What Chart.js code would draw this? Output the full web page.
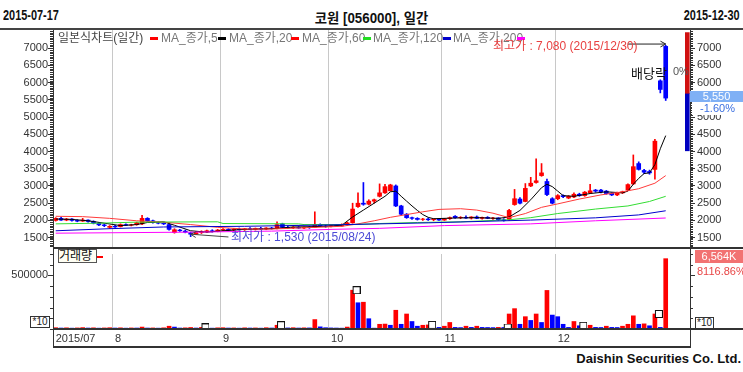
<!DOCTYPE html>
<html>
<head>
<meta charset="utf-8">
<script src="https://cdn.jsdelivr.net/npm/chart.js@4.4.0/dist/chart.umd.min.js"></script>
<style>
  body { margin: 0; width: 743px; height: 372px; position: relative; background: #fff; overflow: hidden;
         font-family: "Liberation Sans", Arial, "Noto Sans CJK KR", sans-serif; }
  canvas { position: absolute; left: 0; }
  .t { position: absolute; white-space: nowrap; }
  .hdr { top: 7px; font-size: 14px; font-weight: bold; color: #111;
         font-family: "Liberation Sans", "Noto Sans CJK KR", sans-serif; }
  .ln { position: absolute; background: #333; }
  .lg { position: absolute; top: 30px; font-size: 12px; line-height: 16px; color: #777; white-space: nowrap;
        font-family: "Liberation Sans", "Noto Sans CJK KR", sans-serif; }
  .dash { position: absolute; top: 37px; height: 3px; width: 8px; }
  .box10 { position: absolute; border: 1px solid #333; background: #fff; font-size: 10px; line-height: 10px;
           text-align: center; color: #222; }
</style>
</head>
<body>
<div class="t hdr" style="left:3px;transform:scaleX(0.78);transform-origin:left center">2015-07-17</div>
<div class="t hdr" style="left:0;width:743px;text-align:center;transform:scaleX(0.95)">코원 [056000], 일간</div>
<div class="t hdr" style="right:3px;transform:scaleX(0.78);transform-origin:right center">2015-12-30</div>
<div class="ln" style="left:0;top:28px;width:743px;height:2px;background:#444"></div>

<canvas id="price" width="743" height="218" style="top:30px"></canvas>
<canvas id="volume" width="743" height="99" style="top:249px"></canvas>

<!-- panel frame -->
<div class="ln" style="left:53px;top:30px;width:1px;height:318px"></div>
<div class="ln" style="left:690px;top:30px;width:1px;height:318px"></div>
<div class="ln" style="left:53px;top:247px;width:690px;height:2px"></div>
<div class="ln" style="left:53px;top:328px;width:690px;height:2px"></div>
<div class="ln" style="left:53px;top:346px;width:638px;height:2px"></div>

<!-- price legend -->
<div class="lg" style="left:58px;color:#444">일본식차트(일간)</div>
<div class="dash" style="left:150px;background:#ff0000"></div>
<div class="lg" style="left:161px">MA_종가,5</div>
<div class="dash" style="left:218px;background:#000"></div>
<div class="lg" style="left:229px">MA_종가,20</div>
<div class="dash" style="left:291px;background:#ff0000"></div>
<div class="lg" style="left:302px">MA_종가,60</div>
<div class="dash" style="left:363px;background:#22dd22"></div>
<div class="lg" style="left:373px">MA_종가,120</div>
<div class="dash" style="left:443px;background:#0000cc"></div>
<div class="lg" style="left:453px">MA_종가,200</div>
<div class="dash" style="left:517px;background:#ff00ff"></div>

<!-- notes on the price panel -->
<div class="t" style="left:493px;top:36px;font-size:12px;color:#e84040">최고가 : 7,080 (2015/12/30)</div>
<div class="t" style="left:231px;top:227px;font-size:12px;color:#4b4bd6">최저가 : 1,530 (2015/08/24)</div>
<div class="t" style="left:631px;top:63px;font-size:13px;color:#111">배당락</div>
<div class="t" style="left:673px;top:65px;font-size:11px;color:#555">0%</div>
<div class="t" style="left:690px;top:91px;width:53px;height:11px;background:#7fb0f5;color:#fff;font-size:11px;line-height:11px;text-align:center">5,550</div>
<div class="t" style="left:692px;top:102px;width:51px;height:13px;background:#fff;color:#3a6fe0;font-size:11px;line-height:13px;text-align:center">-1.60%</div>

<!-- volume panel notes -->
<div class="t" style="left:58px;top:249px;width:37px;height:12px;border:1px solid #555;background:#fffff4;font-size:12px;line-height:12px;color:#111">거래량</div>
<div class="ln" style="left:97px;top:256px;width:6px;height:2px;background:#ff0000"></div>
<div class="box10" style="left:30px;top:316px;width:18px;height:10px">*10</div>
<div class="box10" style="left:695px;top:317px;width:17px;height:10px">*10</div>
<div class="t" style="left:695px;top:250px;width:48px;height:13px;background:#f27272;color:#fff;font-size:11px;line-height:13px;text-align:center">6,564K</div>
<div class="t" style="left:697px;top:265px;font-size:11px;color:#e84646">8116.86%</div>

<div class="t" style="right:2px;top:351px;font-size:13px;font-weight:bold;color:#111">Daishin Securities Co. Ltd.</div>

<script>
// months on the x axis and how many trading days each one has
const monthTicks = ['2015/07', '8', '9', '10', '11', '12'];
const monthDays = [11, 20, 20, 21, 21, 21];
const spareSlots = 4; // empty room on the right

// daily candles 2015-07-17 .. 2015-12-30
const opens = [
  2000, 2060, 2010, 2040, 2000, 1980, 2010, 1970, 1920, 1870,
  1800, 1830, 1820, 1880, 1860, 1880, 1900, 2060, 1990, 1940,
  1920, 1880, 1650, 1720, 1690, 1640, 1600, 1650, 1670, 1700,
  1680, 1720, 1740, 1720, 1750, 1730, 1760, 1740, 1770, 1750,
  1780, 1760, 1900, 1800, 1790, 1800, 1780, 1800, 1800, 1880,
  1840, 1830, 1850, 1840, 1880, 1930, 2400, 2500, 2470, 2560,
  2700, 2800, 2860, 3000, 2420, 2180, 2080, 2060, 2030, 2040,
  2020, 2040, 2010, 2050, 2120, 2080, 2090, 2070, 2100, 2060,
  2090, 2060, 2070, 2020, 2030, 2460, 2620, 2550, 3000, 3100,
  3300, 3130, 2630, 2630, 2720, 2650, 2680, 2760, 2720, 2800,
  2880, 2880, 2850, 2790, 2740, 2800, 2880, 3060, 3650, 3450,
  3420, 3480, 6050, 7050
];
const highs = [
  2080, 2090, 2060, 2050, 2020, 2060, 2020, 1990, 1940, 1900,
  1850, 1860, 1900, 1900, 1890, 1950, 2150, 2080, 2010, 1960,
  1940, 1900, 1760, 1740, 1720, 1660, 1680, 1700, 1720, 1730,
  1740, 1760, 1760, 1770, 1780, 1770, 1790, 1780, 1800, 1790,
  1800, 1960, 1920, 1830, 1820, 1820, 1810, 1820, 2250, 1900,
  1870, 1860, 1880, 1900, 1950, 2500, 2800, 3100, 2600, 2620,
  3060, 3050, 3050, 3030, 2440, 2200, 2100, 2080, 2060, 2070,
  2050, 2060, 2060, 2100, 2140, 2110, 2130, 2110, 2130, 2100,
  2110, 2090, 2080, 2050, 2320, 2900, 2660, 3070, 3250, 3790,
  3650, 3200, 2660, 2750, 2740, 2720, 2800, 2790, 2840, 3050,
  2900, 2900, 2870, 2800, 2820, 2850, 3060, 3900, 3700, 3480,
  3460, 4350, 6080, 7080
];
const lows = [
  1980, 2000, 1990, 1980, 1960, 1970, 1950, 1900, 1850, 1820,
  1760, 1800, 1810, 1850, 1840, 1860, 1880, 1960, 1920, 1900,
  1880, 1720, 1630, 1680, 1640, 1530, 1590, 1620, 1650, 1660,
  1670, 1700, 1700, 1700, 1720, 1710, 1730, 1720, 1740, 1730,
  1750, 1750, 1790, 1770, 1760, 1770, 1760, 1770, 1790, 1820,
  1800, 1810, 1820, 1830, 1850, 1920, 2380, 2440, 2450, 2500,
  2680, 2780, 2850, 2400, 2150, 2060, 2030, 2010, 2000, 2000,
  1990, 2000, 2000, 2030, 2060, 2050, 2060, 2040, 2050, 2040,
  2050, 2030, 2000, 1980, 2000, 2440, 2480, 2540, 2980, 3080,
  3280, 2720, 2480, 2600, 2660, 2630, 2660, 2700, 2700, 2790,
  2820, 2800, 2760, 2720, 2720, 2780, 2860, 3040, 3460, 3360,
  3340, 3200, 5700, 5480
];
const closes = [
  2060, 2010, 2040, 2000, 1980, 2010, 1970, 1920, 1870, 1850,
  1830, 1810, 1880, 1860, 1870, 1930, 2060, 1990, 1940, 1920,
  1900, 1740, 1730, 1700, 1660, 1600, 1650, 1670, 1700, 1680,
  1720, 1740, 1720, 1750, 1730, 1760, 1740, 1770, 1750, 1780,
  1760, 1880, 1800, 1790, 1800, 1780, 1800, 1790, 1880, 1840,
  1830, 1850, 1840, 1880, 1930, 2330, 2500, 2470, 2560, 2600,
  2800, 2980, 3030, 2420, 2180, 2080, 2060, 2030, 2040, 2020,
  2040, 2010, 2050, 2080, 2080, 2090, 2070, 2100, 2060, 2090,
  2060, 2070, 2020, 2000, 2290, 2630, 2500, 2930, 3080, 3150,
  3380, 2750, 2500, 2720, 2690, 2700, 2760, 2720, 2820, 2860,
  2850, 2830, 2780, 2740, 2800, 2830, 3040, 3560, 3480, 3400,
  3380, 4300, 5800, 5550
];
// volume, in the units of the axis (x10 shares)
const volumes = [
  12000, 9000, 11000, 8000, 10000, 13000, 9000, 11000, 8000, 10000,
  12000, 9000, 11000, 8000, 10000, 9000, 18000, 9000, 10000, 8000,
  11000, 26000, 18000, 9000, 11000, 14000, 9000, 15000, 10000, 8000,
  11000, 12000, 9000, 10000, 8000, 11000, 9000, 10000, 8000, 12000,
  9000, 35000, 15000, 10000, 12000, 9000, 11000, 10000, 88000, 20000,
  12000, 10000, 9000, 8000, 18000, 362000, 245000, 250000, 96000, 8000,
  44000, 46000, 35000, 175000, 44000, 140000, 70000, 26000, 35000, 38000,
  35000, 15000, 26000, 61000, 15000, 13000, 26000, 15000, 26000, 15000,
  14000, 13000, 15000, 14000, 140000, 190000, 44000, 115000, 80000, 140000,
  61000, 360000, 130000, 115000, 44000, 15000, 70000, 30000, 26000, 35000,
  15000, 14000, 26000, 15000, 14000, 26000, 44000, 123000, 44000, 48000,
  30000, 140000, 15000, 656400
];
const volMarks = [27, 41, 55, 69, 83, 97, 111];

// moving averages: [day index, price]
const ma5 = [[0,2040],[3,2030],[6,1990],[9,1920],[12,1850],[15,1880],[17,1940],[20,1960],[22,1860],
  [25,1700],[28,1660],[31,1700],[35,1740],[40,1760],[44,1810],[48,1820],[51,1840],[53,1860],[55,2100],
  [57,2300],[59,2500],[61,2700],[62,2830],[63,2850],[64,2700],[65,2560],[66,2420],[67,2290],[68,2170],
  [69,2090],[70,2050],[74,2070],[78,2080],[82,2060],[84,2100],[86,2290],[88,2600],[90,2950],[91,3050],
  [92,2980],[93,2850],[94,2720],[96,2700],[99,2780],[102,2830],[105,2800],[106,2850],[107,3050],
  [108,3220],[109,3360],[110,3380],[111,3620],[112,4080],[113,4460]];
const ma20 = [[0,2120],[5,2110],[10,2060],[15,1990],[20,1950],[25,1880],[30,1800],[35,1750],[40,1750],
  [45,1780],[50,1810],[53,1830],[56,1900],[59,1990],[62,2090],[65,2170],[68,2250],[71,2320],[75,2340],
  [78,2300],[81,2210],[84,2080],[87,2200],[90,2380],[93,2480],[97,2620],[101,2740],[105,2830],
  [108,2920],[111,3080],[113,3300]];
const ma60 = [[0,1900],[8,1920],[15,1950],[30,1960],[31,1910],[45,1900],[46,1880],[55,1880],[60,1910],
  [67,1940],[75,1960],[84,2020],[88,2080],[93,2200],[100,2330],[106,2420],[110,2550],[113,2700]];
const ma120 = [[0,1700],[10,1760],[20,1810],[35,1830],[51,1870],[69,1930],[88,2010],[100,2075],
  [108,2160],[113,2280]];
const ma200 = [[0,1630],[25,1660],[40,1690],[51,1740],[60,1770],[72,1850],[88,1900],[100,1990],[113,2070]];

// strip beside the right price axis
const rangeUp = [5690, 7450];
const rangeDown = [4020, 5690];

const priceTicks = [1500, 2000, 2500, 3000, 3500, 4000, 4500, 5000, 5500, 6000, 6500, 7000];
const volTicks = [500000];

// ---------------------------------------------------------------
const RED = '#ff0000', BLUE = '#0000ff';
Chart.defaults.font.family = '"Liberation Sans", Arial, sans-serif';
Chart.defaults.font.size = 11;
Chart.defaults.color = '#333';

const labels = [];
const monthStart = [];
monthDays.forEach(n => {
  monthStart.push(labels.length);
  for (let k = 0; k < n; k++) labels.push('d' + labels.length);
});
for (let k = 0; k < spareSlots; k++) labels.push('p' + k);
const lastSlot = labels.length - 1;

function spread(pairs) {
  const arr = labels.map(() => null);
  pairs.forEach(([i, v]) => { arr[i] = v; });
  return arr;
}

const candleColor = c => closes[c.dataIndex] >= opens[c.dataIndex] ? RED : BLUE;
const gridColor = c => (c.index > 0 && monthStart.includes(c.index)) ? '#c8c8c8' : 'rgba(0,0,0,0)';

// fixed axis width, and no extra room for the end labels
const sideFit = s => { s.width = 53; s.paddingTop = 0; s.paddingBottom = 0; };

// short ticks all along an axis, like a ruler
const rulerTicks = {
  id: 'rulerTicks',
  afterDraw(chart, args, opts) {
    const ctx = chart.ctx;
    ctx.save();
    ctx.strokeStyle = '#333';
    ctx.lineWidth = 1;
    Object.entries(opts.steps || {}).forEach(([id, step]) => {
      const s = chart.scales[id];
      const left = s.position === 'left';
      const x0 = left ? s.right : s.left;
      for (let v = Math.ceil(s.min / step) * step; v <= s.max; v += step) {
        const y = Math.round(s.getPixelForValue(v)) + 0.5;
        ctx.beginPath();
        ctx.moveTo(x0, y);
        ctx.lineTo(left ? x0 - 3 : x0 + 3, y);
        ctx.stroke();
      }
    });
    ctx.restore();
  }
};

// arrows pointing at the high and the low
const arrows = {
  id: 'arrows',
  afterDatasetsDraw(chart, args, opts) {
    const { ctx, scales: { x, y } } = chart;
    ctx.save();
    (opts.list || []).forEach(a => {
      const x1 = x.getPixelForValue(a.from[0]), y1 = y.getPixelForValue(a.from[1]);
      const x2 = x.getPixelForValue(a.to[0]), y2 = y.getPixelForValue(a.to[1]);
      const ang = Math.atan2(y2 - y1, x2 - x1);
      ctx.strokeStyle = a.color;
      ctx.lineWidth = 1;
      ctx.beginPath();
      ctx.moveTo(x1, y1);
      ctx.lineTo(x2, y2);
      ctx.moveTo(x2 - 6 * Math.cos(ang - 0.5), y2 - 6 * Math.sin(ang - 0.5));
      ctx.lineTo(x2, y2);
      ctx.lineTo(x2 - 6 * Math.cos(ang + 0.5), y2 - 6 * Math.sin(ang + 0.5));
      ctx.stroke();
    });
    ctx.restore();
  }
};

function maLine(pairs, color) {
  return { type: 'line', data: spread(pairs), borderColor: color, borderWidth: 1,
           pointRadius: 0, spanGaps: true, tension: 0, order: 1 };
}

new Chart(document.getElementById('price'), {
  type: 'bar',
  data: {
    labels,
    datasets: [
      { data: highs.map((h, i) => [lows[i], h]), backgroundColor: candleColor,
        barThickness: 1, grouped: false, order: 3 },
      { data: opens.map((o, i) => [Math.min(o, closes[i]), Math.max(o, closes[i])]),
        backgroundColor: candleColor, barThickness: 4, grouped: false, order: 2 },
      maLine(ma200, '#ff00ff'),
      maLine(ma120, '#0000cc'),
      maLine(ma60, '#33dd33'),
      maLine(ma20, '#ff3b3b'),
      maLine(ma5, '#000000'),
      { data: spread([[lastSlot, rangeUp]]), backgroundColor: '#d01010', barThickness: 4, grouped: false, order: 2 },
      { data: spread([[lastSlot, rangeDown]]), backgroundColor: '#0000c0', barThickness: 4, grouped: false, order: 2 },
    ]
  },
  options: {
    responsive: false,
    animation: false,
    layout: { padding: 0 },
    plugins: {
      legend: { display: false },
      tooltip: { enabled: false },
      rulerTicks: { steps: { y: 50, y2: 50 } },
      arrows: { list: [
        { from: [106, 7117], to: [113, 7117], color: '#222' },
        { from: [32, 1520], to: [25, 1600], color: '#444' },
      ] }
    },
    scales: {
      x: {
        offset: true,
        ticks: { display: false },
        grid: { offset: true, drawTicks: false, color: gridColor },
        border: { display: false },
        afterFit: s => { s.height = 0; }
      },
      y: {
        position: 'left', min: 1200, max: 7525,
        afterBuildTicks: s => { s.ticks = priceTicks.map(v => ({ value: v })); },
        afterFit: sideFit,
        ticks: { padding: 0, callback: v => String(v) },
        grid: { drawOnChartArea: false, tickLength: 5, color: '#333', tickColor: '#333' },
        border: { display: false }
      },
      y2: {
        position: 'right', min: 1200, max: 7525,
        afterBuildTicks: s => { s.ticks = priceTicks.map(v => ({ value: v })); },
        afterFit: sideFit,
        ticks: { padding: 2, callback: v => String(v) },
        grid: { drawOnChartArea: false, tickLength: 5, color: '#333', tickColor: '#333' },
        border: { display: false }
      }
    }
  },
  plugins: [rulerTicks, arrows]
});

// little square markers sitting on some volume bars
const markImg = document.createElement('canvas');
markImg.width = 16; markImg.height = 8;
{
  const c = markImg.getContext('2d');
  c.fillStyle = '#fff';
  c.fillRect(8.5, 0.5, 7, 7);
  c.strokeStyle = '#111';
  c.lineWidth = 1;
  c.strokeRect(8.5, 0.5, 7, 7);
}

new Chart(document.getElementById('volume'), {
  type: 'bar',
  data: {
    labels,
    datasets: [
      { type: 'line', data: spread(volMarks.map(i => [i, volumes[i]])), showLine: false,
        pointStyle: markImg, pointRadius: 4, order: 1 },
      { data: volumes, barThickness: 4, order: 2,
        backgroundColor: c => (c.dataIndex === 0 || volumes[c.dataIndex] >= volumes[c.dataIndex - 1]) ? RED : BLUE }
    ]
  },
  options: {
    responsive: false,
    animation: false,
    layout: { padding: 0 },
    plugins: {
      legend: { display: false },
      tooltip: { enabled: false },
      rulerTicks: { steps: { y: 100000, y2: 100000 } }
    },
    scales: {
      x: {
        offset: true,
        ticks: {
          autoSkip: false, maxRotation: 0, minRotation: 0, align: 'start', padding: 3,
          callback: (v, i) => { const m = monthStart.indexOf(i); return m >= 0 ? monthTicks[m] : ''; }
        },
        grid: { offset: true, drawTicks: false, color: gridColor },
        border: { display: false },
        afterFit: s => { s.height = 19; }
      },
      y: {
        position: 'left', min: 0, max: 700000,
        afterBuildTicks: s => { s.ticks = volTicks.map(v => ({ value: v })); },
        afterFit: sideFit,
        ticks: { padding: 0, callback: v => String(v) },
        grid: { drawOnChartArea: false, tickLength: 5, color: '#333', tickColor: '#333' },
        border: { display: false }
      },
      y2: {
        position: 'right', min: 0, max: 700000,
        afterBuildTicks: s => { s.ticks = volTicks.map(v => ({ value: v })); },
        afterFit: sideFit,
        ticks: { callback: () => '' },
        grid: { drawOnChartArea: false, tickLength: 5, color: '#333', tickColor: '#333' },
        border: { display: false }
      }
    }
  },
  plugins: [rulerTicks]
});
</script>
</body>
</html>
